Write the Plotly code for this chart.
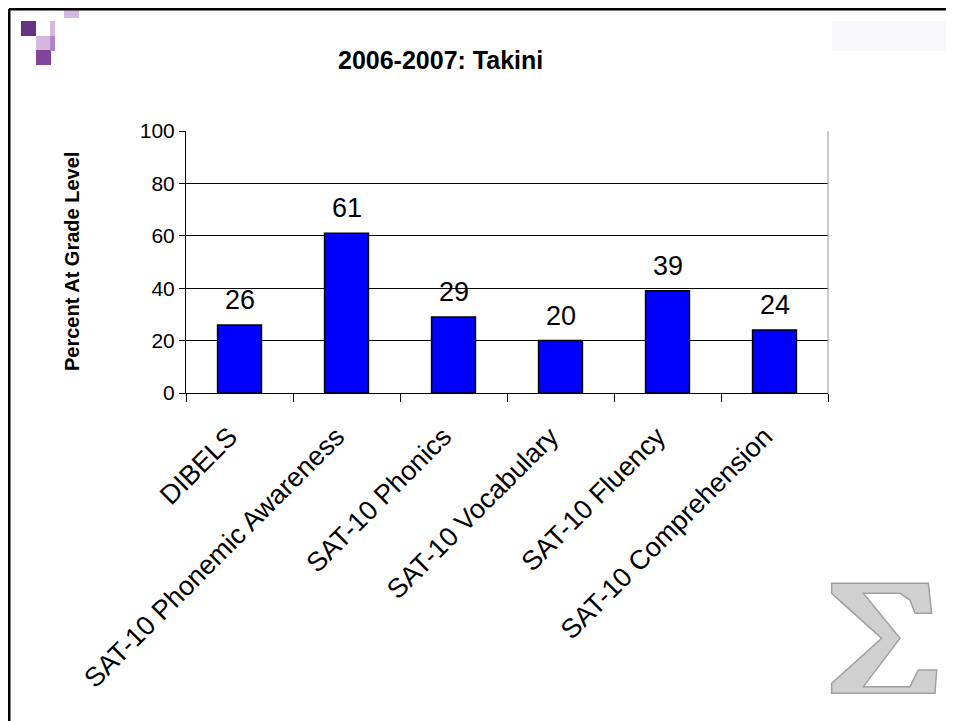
import plotly.graph_objects as go

categories = ["DIBELS", "SAT-10 Phonemic Awareness", "SAT-10 Phonics",
              "SAT-10 Vocabulary", "SAT-10 Fluency", "SAT-10 Comprehension"]
values = [26, 61, 29, 20, 39, 24]
y_ticks = [0, 20, 40, 60, 80, 100]
title_text = "2006-2007: Takini"
y_title = "Percent At Grade Level"

OFF = 8  # page body margin offset
W, H = 954 - OFF, 721 - OFF
L, R, T, B = 186, 828, 131, 393  # page pixel coords of plot area
FONT = "Arial, Liberation Sans, sans-serif"


def px(x):
    return (x - L) / (R - L)


def py(y):
    return (B - y) / (B - T)


fig = go.Figure()
fig.add_trace(go.Bar(
    x=categories, y=values,
    marker=dict(color="#0000FF", line=dict(color="#000000", width=1.5)),
    hoverinfo="x+y",
))

annotations = []
for c, v in zip(categories, values):
    annotations.append(dict(x=c, y=v, xref="x", yref="y", text=str(v),
                            showarrow=False, yanchor="bottom", yshift=8,
                            font=dict(family=FONT, size=27, color="#000")))
annotations.append(dict(x=px(440), y=py(60), xref="paper", yref="paper",
                        text="<b>%s</b>" % title_text, showarrow=False,
                        xanchor="center", yanchor="middle",
                        font=dict(family=FONT, size=25, color="#000")))
annotations.append(dict(x=px(72), y=py(262), xref="paper", yref="paper",
                        text="<b>%s</b>" % y_title, showarrow=False, textangle=-90,
                        xanchor="center", yanchor="middle",
                        font=dict(family=FONT, size=20, color="#000")))

shapes = []


def rect(x0, y0, x1, y1, color):
    shapes.append(dict(type="rect", xref="paper", yref="paper",
                       x0=px(x0), x1=px(x1), y0=py(y1), y1=py(y0),
                       fillcolor=color, line=dict(width=0, color=color),
                       layer="above"))


# decorative purple squares
rect(64, 7, 79, 18, "#D4B8E0")
rect(21, 21, 36, 36, "#663380")
rect(36, 36, 51, 50, "#D4B8E0")
rect(36, 50, 51, 65, "#82449C")
rect(50, 21, 55, 36, "#D4B8E0")
rect(50, 36, 55, 51, "#B580CC")
# faint top-right block
rect(832, 21, 960, 51, "#F8F8FA")

# slide border (top and left)
shapes.append(dict(type="line", xref="paper", yref="paper", x0=px(9), x1=px(970),
                   y0=py(9), y1=py(9), line=dict(color="#000", width=3), layer="above"))
shapes.append(dict(type="line", xref="paper", yref="paper", x0=px(9), x1=px(9),
                   y0=py(9), y1=py(740), line=dict(color="#000", width=3), layer="above"))

# right edge of plot area
shapes.append(dict(type="line", xref="paper", yref="paper", x0=1, x1=1, y0=0, y1=1,
                   line=dict(color="#999999", width=1), layer="above"))

# sigma logo
sig = [(95, 70), (385, 70), (395, 160), (345, 160), (330, 120), (300, 100),
       (190, 100), (300, 235), (190, 380), (330, 380), (355, 330), (410, 330),
       (405, 400), (95, 400), (95, 370), (245, 235), (95, 100)]
pts = [(px(800 + a / 3), py(560 + b / 3)) for a, b in sig]
path = "M " + " L ".join("%.5f,%.5f" % p for p in pts) + " Z"
shapes.append(dict(type="path", xref="paper", yref="paper", path=path,
                   fillcolor="#D0D0D0", line=dict(color="#A0A0A0", width=1.5),
                   layer="above"))

fig.update_layout(
    width=W, height=H, autosize=False,
    margin=dict(l=L - OFF, r=W - (R - OFF), t=T - OFF, b=H - (B - OFF), pad=0),
    paper_bgcolor="#FFFFFF", plot_bgcolor="#FFFFFF",
    showlegend=False, bargap=0.59,
    font=dict(family=FONT, color="#000"),
    annotations=annotations, shapes=shapes,
    xaxis=dict(type="category", showline=True, linecolor="#000", linewidth=1,
               ticks="outside", tickson="boundaries", ticklen=8, tickcolor="#000",
               tickangle=-45, tickfont=dict(family=FONT, size=27, color="#000"),
               ticklabelstandoff=16, ticklabelshift=-10,
               showgrid=False, fixedrange=True),
    yaxis=dict(range=[0, 100], tickvals=y_ticks, showline=True, linecolor="#000",
               linewidth=1, ticks="outside", ticklen=6, tickcolor="#000",
               tickfont=dict(family=FONT, size=21, color="#000"),
               showgrid=True, gridcolor="#000", gridwidth=1, zeroline=False,
               fixedrange=True),
)

fig.write_html("out.html")
